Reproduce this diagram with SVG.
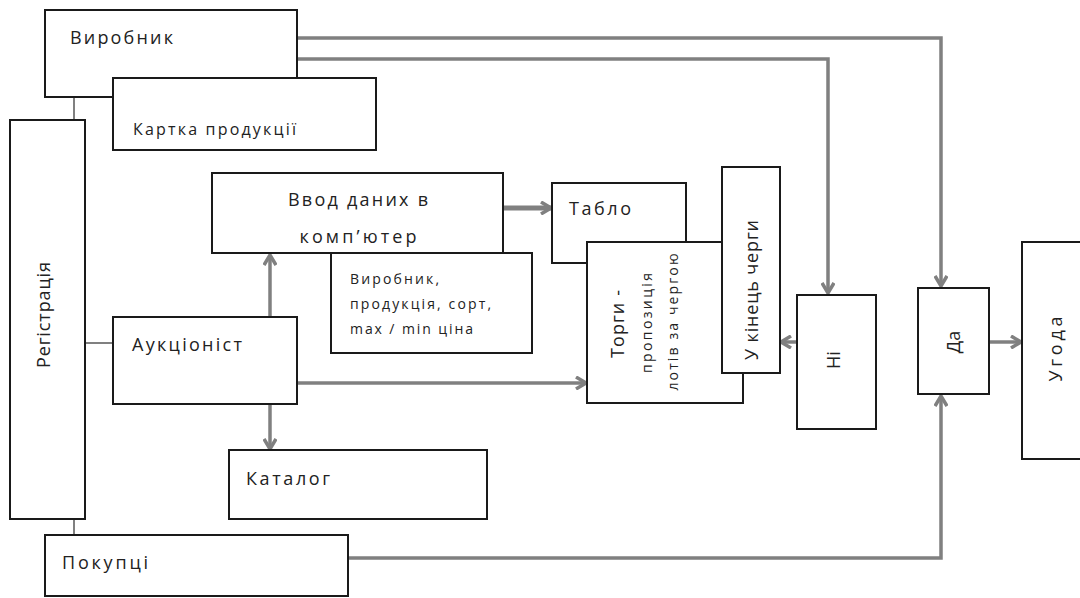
<svg xmlns="http://www.w3.org/2000/svg" width="1080" height="598" viewBox="0 0 1080 598">
<style>
.box{fill:#fff;stroke:#1a1a1a;stroke-width:2}
.t{font-family:"Open Sans","Noto Sans","Liberation Sans",sans-serif;font-size:18px;fill:#222}
.s{font-family:"Open Sans","Noto Sans","Liberation Sans",sans-serif;font-size:14px;fill:#222}
.m{font-family:"Open Sans","Noto Sans","Liberation Sans",sans-serif;font-size:16px;fill:#222}
.c{fill:none;stroke:#808080;stroke-width:3.5}
.thin{fill:none;stroke:#808080;stroke-width:2}
</style>
<defs>
<marker id="arr" markerUnits="userSpaceOnUse" viewBox="0 0 12 14" refX="11" refY="7" markerWidth="12" markerHeight="14" orient="auto">
<path d="M1,1 L11,7 L1,13" fill="none" stroke="#808080" stroke-width="3.5"/>
</marker>
</defs>
<rect width="1080" height="598" fill="#fff"/>
<g id="connectors">
<path class="c" d="M297,38 H941 V286" marker-end="url(#arr)"/>
<path class="c" d="M297,59 H828 V293" marker-end="url(#arr)"/>
<path class="c" d="M348,558 H941 V396" marker-end="url(#arr)"/>
<path class="c" d="M270,317 V255" marker-end="url(#arr)"/>
<path class="c" d="M270,404 V449" marker-end="url(#arr)"/>
<path class="c" d="M297,383 H586" marker-end="url(#arr)"/>
<path class="c" d="M503,208 H551" marker-end="url(#arr)" style="stroke-width:5"/>
<path class="c" d="M797,342 H781" marker-end="url(#arr)"/>
<path class="c" d="M989,342 H1021" marker-end="url(#arr)"/>
<path class="thin" d="M74,97 V120"/>
<path class="thin" d="M85,343 H113"/>
<path class="thin" d="M74,519 V535"/>
</g>
<g id="vyrobnyk">
<rect class="box" x="45" y="10" width="252" height="87"/>
<text class="t" x="70" y="44" textLength="103" lengthAdjust="spacing">Виробник</text>
</g>
<g id="kartka">
<rect class="box" x="113" y="78" width="263" height="72"/>
<text class="m" x="133" y="135" textLength="163" lengthAdjust="spacing">Картка продукції</text>
</g>
<g id="reiestratsiia">
<rect class="box" x="10" y="120" width="75" height="399"/>
<text class="t" transform="translate(50,315) rotate(-90)" text-anchor="middle" textLength="106" lengthAdjust="spacing">Регістрація</text>
</g>
<g id="vvod">
<rect class="box" x="212" y="173" width="291" height="80"/>
<text class="t" x="358" y="206" text-anchor="middle" textLength="140" lengthAdjust="spacing">Ввод даних в</text>
<text class="t" x="358" y="243" text-anchor="middle" textLength="117" lengthAdjust="spacing">комп’ютер</text>
</g>
<g id="note">
<rect class="box" x="331" y="253" width="201" height="100"/>
<text class="s" x="350" y="284" textLength="89" lengthAdjust="spacing">Виробник,</text>
<text class="s" x="350" y="309" textLength="141" lengthAdjust="spacing">продукція, сорт,</text>
<text class="s" x="350" y="334" textLength="123" lengthAdjust="spacing">max / min ціна</text>
</g>
<g id="auktsionist">
<rect class="box" x="113" y="317" width="184" height="87"/>
<text class="t" x="132" y="351" textLength="110" lengthAdjust="spacing">Аукціоніст</text>
</g>
<g id="kataloh">
<rect class="box" x="229" y="450" width="258" height="69"/>
<text class="t" x="246" y="485" textLength="84" lengthAdjust="spacing">Каталог</text>
</g>
<g id="pokuptsi">
<rect class="box" x="45" y="535" width="303" height="61"/>
<text class="t" x="62" y="569" textLength="86" lengthAdjust="spacing">Покупці</text>
</g>
<g id="tablo">
<rect class="box" x="552" y="183" width="134" height="80"/>
<text class="t" x="569" y="215" textLength="62" lengthAdjust="spacing">Табло</text>
</g>
<g id="torhy">
<rect class="box" x="587" y="242" width="156" height="161"/>
<text class="t" transform="translate(624,324) rotate(-90)" text-anchor="middle" textLength="68" lengthAdjust="spacing">Торги -</text>
<text class="s" transform="translate(652,323) rotate(-90)" text-anchor="middle" textLength="100" lengthAdjust="spacing">пропозиція</text>
<text class="s" transform="translate(678,322) rotate(-90)" text-anchor="middle" textLength="137" lengthAdjust="spacing">лотів за чергою</text>
</g>
<g id="u-kinets">
<rect class="box" x="722" y="167" width="58" height="206"/>
<text class="t" transform="translate(758,290) rotate(-90)" text-anchor="middle" textLength="140" lengthAdjust="spacing">У кінець черги</text>
</g>
<g id="ni">
<rect class="box" x="797" y="295" width="79" height="134"/>
<text class="t" transform="translate(840,360) rotate(-90)" text-anchor="middle">Ні</text>
</g>
<g id="da">
<rect class="box" x="918" y="288" width="71" height="106"/>
<text class="t" transform="translate(960,342) rotate(-90)" text-anchor="middle">Да</text>
</g>
<g id="uhoda">
<rect class="box" x="1022" y="242" width="70" height="217"/>
<text class="t" transform="translate(1062,349) rotate(-90)" text-anchor="middle" textLength="65" lengthAdjust="spacing">Угода</text>
</g>
</svg>
